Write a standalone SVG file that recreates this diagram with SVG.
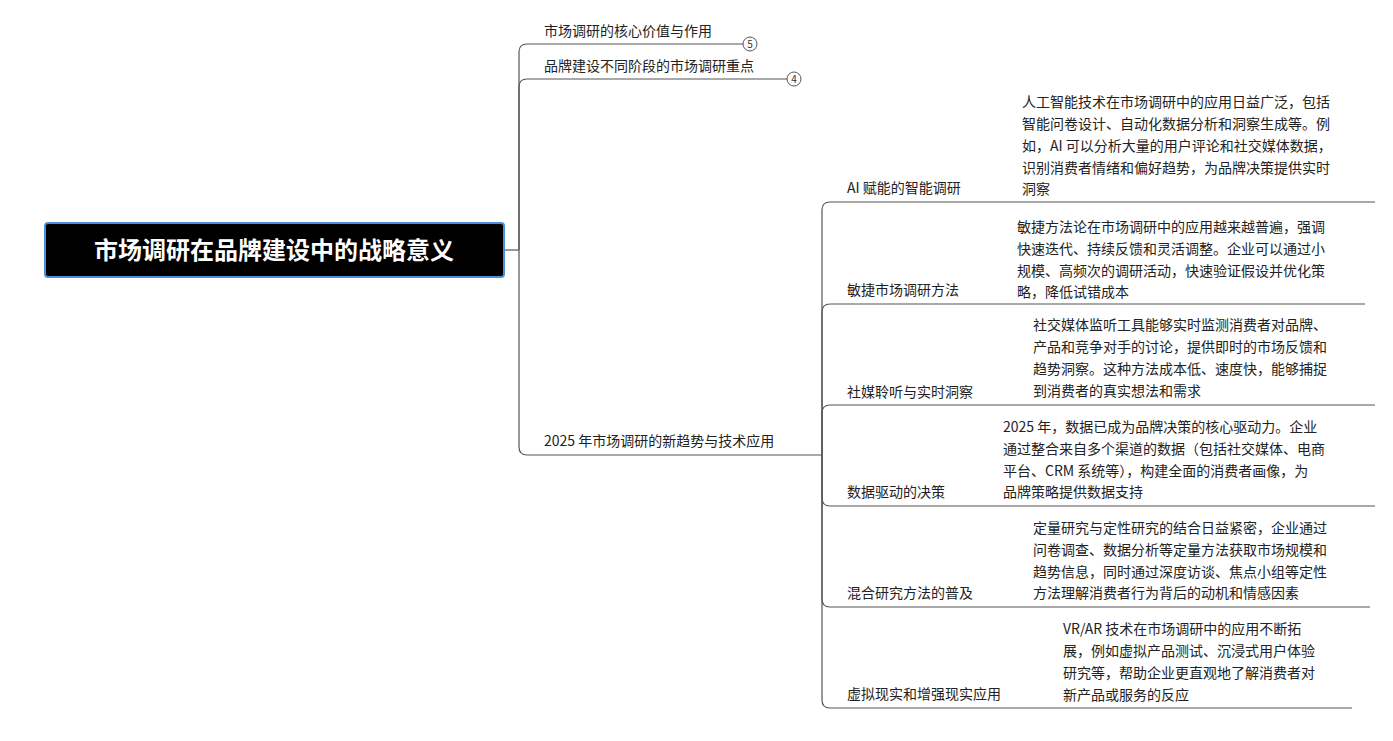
<svg xmlns="http://www.w3.org/2000/svg" width="1393" height="741" viewBox="0 0 1393 741">
<style>
text{font-family:"Noto Sans CJK SC","Liberation Sans",sans-serif;font-size:14px;fill:#222}
.ln{fill:none;stroke:#555;stroke-width:1.2}
.root{font-size:24px;font-weight:bold;fill:#fff}
.num{font-size:10px;text-anchor:middle;fill:#333}
</style>
<rect width="1393" height="741" fill="#fff"/>
<g id="connectors">
<path class="ln" d="M504 250H519"/>
<path class="ln" d="M519 250V52Q519 44 527 44H743"/>
<path class="ln" d="M519 250V87Q519 79 527 79H787"/>
<path class="ln" d="M519 250V447Q519 455 527 455H822"/>
<path class="ln" d="M822 455V210Q822 202 830 202H1375"/>
<path class="ln" d="M822 455V312Q822 304 830 304H1365"/>
<path class="ln" d="M822 455V413Q822 405 830 405H1375"/>
<path class="ln" d="M822 455V498Q822 506 830 506H1375"/>
<path class="ln" d="M822 455V599Q822 607 830 607H1370"/>
<path class="ln" d="M822 455V700Q822 708 830 708H1352"/>
</g>
<g id="root"><rect x="45" y="223" width="459" height="54" rx="3" fill="#000" stroke="#4a90d9" stroke-width="2"/><text class="root" x="274" y="259" text-anchor="middle">市场调研在品牌建设中的战略意义</text></g>
<g id="t1"><text x="544" y="36">市场调研的核心价值与作用</text><circle cx="750" cy="44" r="7" fill="#fff" stroke="#555"/><text class="num" x="750" y="48">5</text></g>
<g id="t2"><text x="544" y="71">品牌建设不同阶段的市场调研重点</text><circle cx="794" cy="79" r="7" fill="#fff" stroke="#555"/><text class="num" x="794" y="83">4</text></g>
<g id="t3"><text x="544" y="446">2025 年市场调研的新趋势与技术应用</text></g>
<g id="s1"><text x="847" y="193">AI 赋能的智能调研</text></g>
<g id="l1"><text x="1022" y="107">人工智能技术在市场调研中的应用日益广泛，包括</text><text x="1022" y="129">智能问卷设计、自动化数据分析和洞察生成等。例</text><text x="1022" y="151">如，AI 可以分析大量的用户评论和社交媒体数据，</text><text x="1022" y="173">识别消费者情绪和偏好趋势，为品牌决策提供实时</text><text x="1022" y="194">洞察</text></g>
<g id="s2"><text x="847" y="295">敏捷市场调研方法</text></g>
<g id="l2"><text x="1017" y="232">敏捷方法论在市场调研中的应用越来越普遍，强调</text><text x="1017" y="254">快速迭代、持续反馈和灵活调整。企业可以通过小</text><text x="1017" y="276">规模、高频次的调研活动，快速验证假设并优化策</text><text x="1017" y="297">略，降低试错成本</text></g>
<g id="s3"><text x="847" y="397">社媒聆听与实时洞察</text></g>
<g id="l3"><text x="1033" y="330">社交媒体监听工具能够实时监测消费者对品牌、</text><text x="1033" y="352">产品和竞争对手的讨论，提供即时的市场反馈和</text><text x="1033" y="374">趋势洞察。这种方法成本低、速度快，能够捕捉</text><text x="1033" y="396">到消费者的真实想法和需求</text></g>
<g id="s4"><text x="847" y="497">数据驱动的决策</text></g>
<g id="l4"><text x="1003" y="432">2025 年，数据已成为品牌决策的核心驱动力。企业</text><text x="1003" y="454">通过整合来自多个渠道的数据（包括社交媒体、电商</text><text x="1003" y="476">平台、CRM 系统等），构建全面的消费者画像，为</text><text x="1003" y="497">品牌策略提供数据支持</text></g>
<g id="s5"><text x="847" y="598">混合研究方法的普及</text></g>
<g id="l5"><text x="1033" y="533">定量研究与定性研究的结合日益紧密，企业通过</text><text x="1033" y="555">问卷调查、数据分析等定量方法获取市场规模和</text><text x="1033" y="577">趋势信息，同时通过深度访谈、焦点小组等定性</text><text x="1033" y="598">方法理解消费者行为背后的动机和情感因素</text></g>
<g id="s6"><text x="847" y="699">虚拟现实和增强现实应用</text></g>
<g id="l6"><text x="1063" y="634">VR/AR 技术在市场调研中的应用不断拓</text><text x="1063" y="656">展，例如虚拟产品测试、沉浸式用户体验</text><text x="1063" y="678">研究等，帮助企业更直观地了解消费者对</text><text x="1063" y="700">新产品或服务的反应</text></g>
</svg>
